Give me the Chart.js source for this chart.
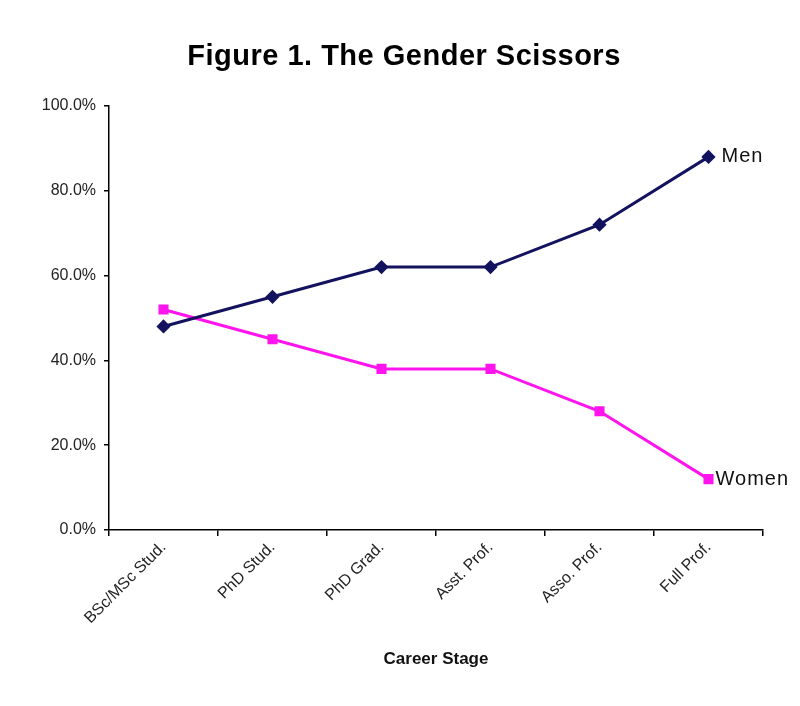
<!DOCTYPE html>
<html lang="en">
<head>
    <meta charset="UTF-8">
    <title>Figure 1. The Gender Scissors</title>
    <script src="https://cdn.jsdelivr.net/npm/chart.js"></script>
    <style>
        html, body { margin: 0; padding: 0; background: #fff; }
        #wrap { width: 800px; height: 706px; }
    </style>
</head>
<body>
    <div id="wrap"><canvas id="scissorsChart" width="800" height="706"></canvas></div>

    <script>
        const stages = ['BSc/MSc Stud.', 'PhD Stud.', 'PhD Grad.', 'Asst. Prof.', 'Asso. Prof.', 'Full Prof.'];
        const menValues = [48, 55, 62, 62, 72, 88];
        const womenValues = [52, 45, 38, 38, 28, 12];
        const yTicks = [0, 20, 40, 60, 80, 100];

        const FONT = 'Arial, "Liberation Sans", sans-serif';

        // titulo com espaçamento entre letras (o plugin title do Chart.js nao tem isso)
        const chartTitle = {
            id: 'chartTitle',
            afterDraw(chart) {
                const ctx = chart.ctx;
                ctx.save();
                ctx.font = 'bold 29px ' + FONT;
                ctx.letterSpacing = '0.5px';
                ctx.fillStyle = '#000';
                ctx.textAlign = 'center';
                ctx.textBaseline = 'alphabetic';
                ctx.fillText('Figure 1. The Gender Scissors', 404, 65);
                ctx.restore();
            }
        };

        // etiqueta no fim de cada linha (Men / Women)
        const endLabels = {
            id: 'endLabels',
            afterDatasetsDraw(chart) {
                const ctx = chart.ctx;
                ctx.save();
                ctx.font = '20px ' + FONT;
                ctx.letterSpacing = '1px';
                ctx.fillStyle = '#111';
                ctx.textBaseline = 'middle';
                chart.data.datasets.forEach((ds, i) => {
                    const meta = chart.getDatasetMeta(i);
                    const pt = meta.data[meta.data.length - 1];
                    ctx.fillText(ds.label, pt.x + (i === 0 ? 13 : 7), pt.y);
                });
                ctx.restore();
            }
        };

        const ctx = document.getElementById('scissorsChart').getContext('2d');
        new Chart(ctx, {
            type: 'line',
            data: {
                labels: stages,
                datasets: [{
                    label: 'Men',
                    data: menValues,
                    borderColor: '#12125e',
                    backgroundColor: '#12125e',
                    borderWidth: 3,
                    pointStyle: 'rectRot',
                    pointRadius: 5,
                    tension: 0
                }, {
                    label: 'Women',
                    data: womenValues,
                    borderColor: '#ff14ee',
                    backgroundColor: '#ff14ee',
                    borderWidth: 3,
                    pointStyle: 'rect',
                    pointRadius: 5,
                    tension: 0
                }]
            },
            options: {
                responsive: false,
                animation: false,
                layout: { padding: { left: 0, right: 37, top: 106, bottom: 0 } },
                plugins: {
                    legend: { display: false },
                    tooltip: { enabled: false },
                    title: { display: false }
                },
                scales: {
                    x: {
                        offset: true,
                        border: { color: '#000', width: 1.5 },
                        grid: { offset: true, drawOnChartArea: false, drawTicks: true, tickLength: 6, color: '#000', lineWidth: 1.5 },
                        ticks: {
                            maxRotation: 45,
                            minRotation: 45,
                            color: '#222',
                            padding: 2,
                            font: { family: FONT, size: 16 }
                        },
                        title: {
                            display: true,
                            text: 'Career Stage',
                            color: '#111',
                            font: { family: FONT, size: 17, weight: 'bold' },
                            padding: { top: 0, bottom: 36 }
                        },
                        afterFit(scale) { scale.height = 176; }
                    },
                    y: {
                        min: 0,
                        max: 100,
                        border: { color: '#000', width: 1.5 },
                        grid: { drawOnChartArea: false, drawTicks: true, tickLength: 5, color: '#000', lineWidth: 1.5 },
                        afterBuildTicks(scale) { scale.ticks = yTicks.map(v => ({ value: v })); },
                        ticks: {
                            color: '#222',
                            padding: 8,
                            font: { family: FONT, size: 16 },
                            callback: v => v.toFixed(1) + '%'
                        },
                        afterFit(scale) { scale.width = 109; }
                    }
                }
            },
            plugins: [endLabels, chartTitle]
        });
    </script>
</body>
</html>
